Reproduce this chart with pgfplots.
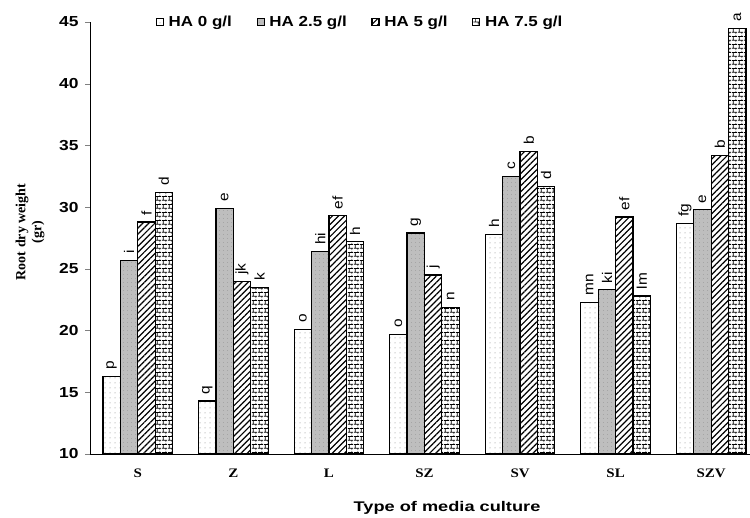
\documentclass[border=0pt]{standalone}
\usepackage{pgfplots}
\pgfplotsset{compat=1.18}
\usepackage{pgfplotstable}
\usetikzlibrary{patterns,patterns.meta}
\usepackage{fontspec}
\setmainfont{Liberation Serif}
\setsansfont{Liberation Sans}
\newfontfamily\ticksans[FakeStretch=1.2]{Liberation Sans}
\newfontfamily\legsans[FakeStretch=1.17]{Liberation Sans}
\newfontfamily\barsans[FakeStretch=1.1]{Liberation Sans}
\newfontfamily\labsans[FakeStretch=1.3]{Liberation Sans}
\newfontfamily\tickserif[FakeStretch=1.15]{Liberation Serif}

\definecolor{barg}{RGB}{190,190,190}

\tikzdeclarepattern{
  name=smallbricks, type=uncolored,
  bounding box={(0,0) and (6pt,7.6pt)},
  tile size={(6pt,7.6pt)},
  code={
    \draw[line width=0.7pt] (0,1.9pt) -- (6pt,1.9pt) (0,5.7pt) -- (6pt,5.7pt)
      (1.5pt,1.9pt) -- (1.5pt,5.7pt)
      (4.5pt,5.7pt) -- (4.5pt,7.6pt) (4.5pt,0) -- (4.5pt,1.9pt);
  }
}

% root dry weight per media culture, one column per HA level
\pgfplotstableread{
x  v0   l0  v1   l1  v2   l2  v3   l3
0  16.3 p   25.7 i   28.8 f   31.2 d
1  14.3 q   29.9 e   24.0 jk  23.5 k
2  20.1 o   26.4 hi  29.3 ef  27.2 h
3  19.7 o   27.9 g   24.5 j   21.9 n
4  27.8 h   32.5 c   34.5 b   31.7 d
5  22.3 mn  23.3 ki  29.2 ef  22.8 lm
6  28.7 fg  29.8 e   34.2 b   44.5 a
}\rootdata

\begin{document}
\begin{tikzpicture}
\begin{axis}[
    scale only axis,
    width=669pt, height=432pt,
    xmin=-0.5, xmax=6.5,
    ymin=10, ymax=45, ytick distance=5,
    axis x line=bottom, axis y line=left,
    axis line style={-, line width=0.6pt},
    tick align=outside,
    major tick length=5pt,
    xtick={0,...,6},
    xticklabels={S,Z,L,SZ,SV,SL,SZV},
    xticklabel style={font=\tickserif\bfseries\fontsize{13}{15}\selectfont, yshift=-6pt},
    x tick style={draw=none},
    minor xtick={-0.5,0.5,...,6.5},
    minor tick length=5pt,
    minor x tick style={line width=0.6pt},
    yticklabel style={font=\ticksans\bfseries\fontsize{14.5}{17}\selectfont, xshift=-3pt},
    /pgf/number format/assume math mode=true,
    ybar=0pt, bar width=17.4pt,
    clip=false,
    point meta=explicit symbolic,
    nodes near coords,
    every node near coord/.append style={rotate=90, anchor=west,
        font=\barsans\fontsize{14}{16}\selectfont, inner sep=5pt, xshift=1pt},
    legend columns=4,
    legend style={draw=none, at={(rel axis cs:0.094,1.0)}, anchor=west,
        font=\legsans\bfseries\fontsize{14.5}{17}\selectfont,
        /tikz/every odd column/.append style={column sep=3pt},
        /tikz/every even column/.append style={column sep=23pt}},
    legend image code/.code={\draw[#1, line width=0.6pt] (0pt,-3.5pt) rectangle (7pt,3.5pt);},
]
\addplot[draw=black, line width=1.2pt, preaction={fill=white},
    pattern={Dots[distance=5pt, radius=0.5pt]}, pattern color=gray]
    table[x=x, y=v0, meta=l0] {\rootdata};
\addplot[draw=black, line width=1.2pt, preaction={fill=barg},
    pattern={Dots[distance=4pt, radius=0.45pt]}, pattern color=gray!85]
    table[x=x, y=v1, meta=l1] {\rootdata};
\addplot[draw=black, line width=1.2pt, preaction={fill=white},
    pattern={Lines[angle=45, distance=4.3pt, line width=1.2pt]}, pattern color=black]
    table[x=x, y=v2, meta=l2] {\rootdata};
\addplot[draw=black, line width=1.2pt, preaction={fill=white},
    pattern=smallbricks, pattern color=black]
    table[x=x, y=v3, meta=l3] {\rootdata};
\legend{HA 0 g/l, HA 2.5 g/l, HA 5 g/l, HA 7.5 g/l}
\coordinate (O) at (rel axis cs:0,0);
\end{axis}
\node[rotate=90, align=center, font=\bfseries\fontsize{14}{16}\selectfont]
    at ([xshift=-60pt, yshift=222pt]O) {Root dry weight\\(gr)};
\node[font=\labsans\bfseries\fontsize{14}{16}\selectfont]
    at ([xshift=357pt, yshift=-54pt]O) {Type of media culture};
\pgfresetboundingbox
\path[use as bounding box] (O) ++(-90pt,-64pt) rectangle ++(750pt,518pt);
\end{tikzpicture}
\end{document}
